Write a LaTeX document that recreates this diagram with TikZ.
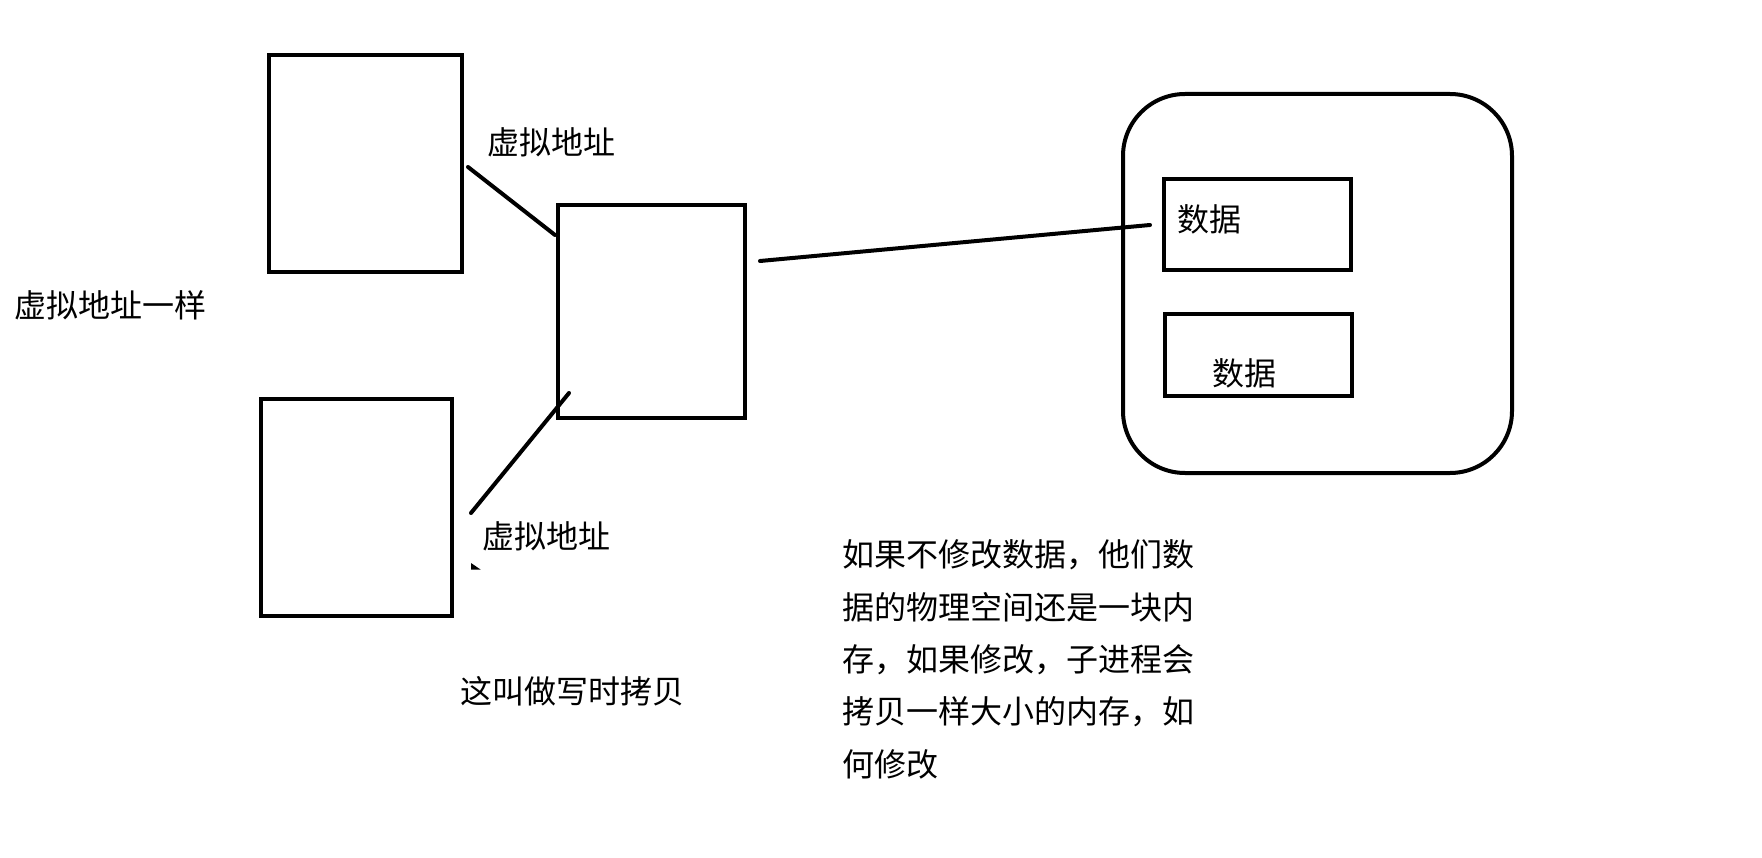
\documentclass[tikz,border=0pt]{standalone}
\usepackage{fontspec}
\setmainfont{Noto Sans CJK SC}
\begin{document}
\begin{tikzpicture}[x=1pt,y=-1pt,
  box/.style={draw=black,line width=4pt,inner sep=0pt,minimum width=#1},
  conn/.style={draw=black,line width=4pt,line cap=round},
  lbl/.style={anchor=base west,inner sep=0pt,font=\fontsize{32}{38}\selectfont},
  para/.style={anchor=base west,inner sep=0pt,font=\fontsize{32}{38}\selectfont}]
\useasboundingbox[fill=white] (0,0) rectangle (1762,858);
% boxes
\node[box=193pt,minimum height=217pt] (A) at (365.5,163.5) {};
\node[box=187pt,minimum height=213pt] (B) at (651.5,311.5) {};
\node[box=191pt,minimum height=217pt] (C) at (356.5,507.5) {};
\node[box=389pt,minimum height=379pt,rounded corners=62pt] (M) at (1317.5,283.5) {};
\node[box=187pt,minimum height=91pt] (D1) at (1257.5,224.5) {};
\node[box=187pt,minimum height=82pt] (D2) at (1258.5,355) {};
% connector end points
\coordinate (a1) at (468,167);
\coordinate (b1) at (555,235);
\coordinate (c1) at (471,513);
\coordinate (b2) at (569,393);
\coordinate (b3) at (760,261);
\coordinate (d1) at (1150,225);
\draw[conn] (a1) -- (b1);
\draw[conn] (c1) -- (b2);
\draw[conn] (b3) -- (d1);
\fill[black] (471,563) -- (471,569.5) -- (480.5,569.5) -- cycle;
% labels
\node[lbl] (l1) at (487,155) {虚拟地址};
\node[lbl] (l2) at (482,548) {虚拟地址};
\node[lbl] (l3) at (14,318) {虚拟地址一样};
\node[lbl] (l4) at (460,703) {这叫做写时拷贝};
\node[lbl] (t1) at (1177,232) {数据};
\node[lbl] (t2) at (1212,386) {数据};
\node[para] (p1) at (842,566) {如果不修改数据，他们数};
\node[para] (p2) at (842,619) {据的物理空间还是一块内};
\node[para] (p3) at (842,671) {存，如果修改，子进程会};
\node[para] (p4) at (842,723) {拷贝一样大小的内存，如};
\node[para] (p5) at (842,776) {何修改};
\end{tikzpicture}
\end{document}
